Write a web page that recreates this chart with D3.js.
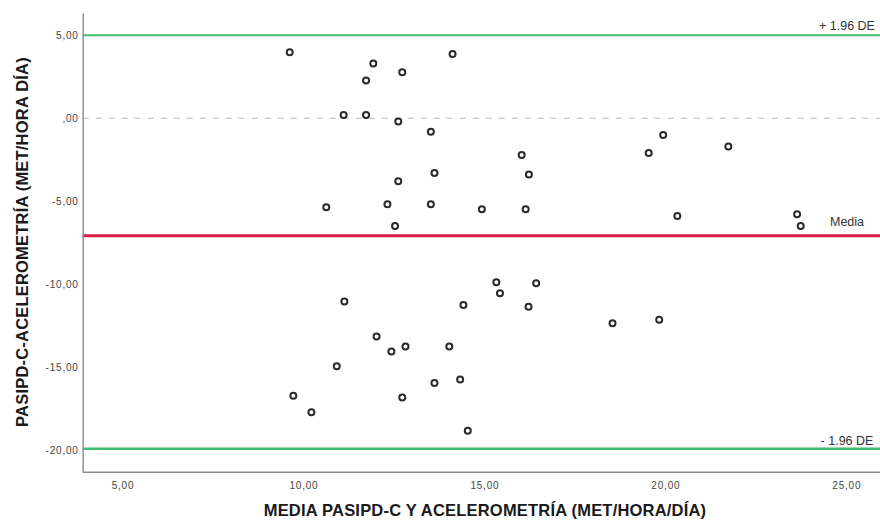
<!DOCTYPE html>
<html>
<head>
<meta charset="utf-8">
<script src="https://cdn.jsdelivr.net/npm/d3@7/dist/d3.min.js"></script>
<style>
  html, body { margin: 0; padding: 0; background: #fff; }
  svg { display: block; }
</style>
</head>
<body>
<svg id="chart" width="880" height="524"></svg>
<script>
// ---- data ----
const meanValues = [9.62, 14.12, 11.93, 12.73, 11.73, 11.11, 11.73, 12.62, 13.52, 16.03,
  16.23, 12.62, 13.62, 10.63, 12.32, 13.52, 14.93, 16.14, 12.53, 19.94,
  19.54, 21.74, 20.33, 23.64, 23.74, 15.33, 16.43, 15.43, 11.13, 14.42,
  16.22, 12.02, 12.43, 12.82, 14.03, 10.92, 13.62, 14.33, 9.72, 12.73,
  10.22, 14.54, 18.54, 19.83];
const diffValues = [3.98, 3.87, 3.29, 2.77, 2.28, 0.20, 0.20, -0.20, -0.81, -2.21,
  -3.39, -3.80, -3.30, -5.37, -5.18, -5.18, -5.48, -5.48, -6.49, -1.01,
  -2.10, -1.71, -5.89, -5.78, -6.49, -9.88, -9.95, -10.55, -11.05, -11.26,
  -11.36, -13.16, -14.05, -13.76, -13.76, -14.94, -15.95, -15.75, -16.73, -16.83,
  -17.72, -18.83, -12.35, -12.15];
const refNames = ["+ 1.96 DE", "Media", "- 1.96 DE"];
const refValues = [5.0, -7.08, -19.92];
const xTickValues = [5, 10, 15, 20, 25];
const xTickLabels = ["5,00", "10,00", "15,00", "20,00", "25,00"];
const yTickValues = [5, 0, -5, -10, -15, -20];
const yTickLabels = ["5,00", ",00", "-5,00", "-10,00", "-15,00", "-20,00"];
const xTitle = "MEDIA PASIPD-C Y ACELEROMETRÍA (MET/HORA/DÍA)";
const yTitle = "PASIPD-C-ACELEROMETRÍA (MET/HORA DÍA)";

// ---- layout ----
const svg = d3.select("#chart");
const padL = 82.7, padR = 882.5, padT = 13, padB = 471.7;
const x = d3.scaleLinear().domain([3.9, 26]).range([padL, padR]);
const y = d3.scaleLinear().domain([-21.3, 6.34]).range([padB, padT]);

const font = "'Liberation Sans', Arial, sans-serif";

// zero dashed line
svg.append("line")
  .attr("x1", padL).attr("x2", 880)
  .attr("y1", y(0)).attr("y2", y(0))
  .attr("stroke", "#b8b8b8").attr("stroke-width", 1)
  .attr("stroke-dasharray", "6,7");

// reference lines
const refColors = ["#3fbd70", "#d81e45", "#3fbd70"];
const refWidths = [2.2, 3, 2.6];
svg.selectAll("line.ref").data(refValues).enter().append("line")
  .attr("class", "ref")
  .attr("x1", padL).attr("x2", 880)
  .attr("y1", d => y(d)).attr("y2", d => y(d))
  .attr("stroke", (d, i) => refColors[i])
  .attr("stroke-width", (d, i) => refWidths[i]);

// reference labels
const labelOffsets = [5, 10, 4];
svg.selectAll("text.reflab").data(refValues).enter().append("text")
  .attr("class", "reflab")
  .attr("x", 847)
  .attr("y", (d, i) => y(d) - labelOffsets[i])
  .attr("text-anchor", "middle")
  .attr("font-family", font)
  .attr("font-size", 12.5)
  .attr("fill", "#333")
  .text((d, i) => refNames[i]);

// axes
const xAxis = d3.axisBottom(x).tickValues(xTickValues)
  .tickFormat((d, i) => xTickLabels[i]).tickSize(0).tickPadding(10);
const gx = svg.append("g").attr("transform", `translate(0,${padB})`).call(xAxis);
gx.select(".domain").attr("stroke", "#8a8a8a").attr("stroke-width", 1.4)
  .attr("d", `M${padL},0.5H880`);
gx.selectAll("text").attr("font-family", font).attr("font-size", 10)
  .attr("letter-spacing", 0.8).attr("fill", "#444");

const yAxis = d3.axisLeft(y).tickValues(yTickValues)
  .tickFormat((d, i) => yTickLabels[i]).tickSize(0).tickPadding(4);
const gy = svg.append("g").attr("transform", `translate(${padL},0)`).call(yAxis);
gy.select(".domain").attr("stroke", "#8a8a8a").attr("stroke-width", 1.4);
gy.selectAll("text").attr("font-family", font).attr("font-size", 10)
  .attr("letter-spacing", 0.8).attr("fill", "#444");

// points
svg.selectAll("circle.pt").data(meanValues).enter().append("circle")
  .attr("class", "pt")
  .attr("cx", d => x(d))
  .attr("cy", (d, i) => y(diffValues[i]))
  .attr("r", 3)
  .attr("fill", "#fff")
  .attr("stroke", "#2a2a2a")
  .attr("stroke-width", 2);

// titles
svg.append("text")
  .attr("x", 485).attr("y", 516)
  .attr("text-anchor", "middle")
  .attr("font-family", font).attr("font-size", 16.5).attr("font-weight", "bold")
  .attr("letter-spacing", 0.2)
  .attr("fill", "#1a1a1a")
  .text(xTitle);

svg.append("text")
  .attr("transform", "translate(28,242) rotate(-90)")
  .attr("text-anchor", "middle")
  .attr("font-family", font).attr("font-size", 16.5).attr("font-weight", "bold")
  .attr("letter-spacing", 0.2)
  .attr("fill", "#1a1a1a")
  .text(yTitle);
</script>
</body>
</html>
